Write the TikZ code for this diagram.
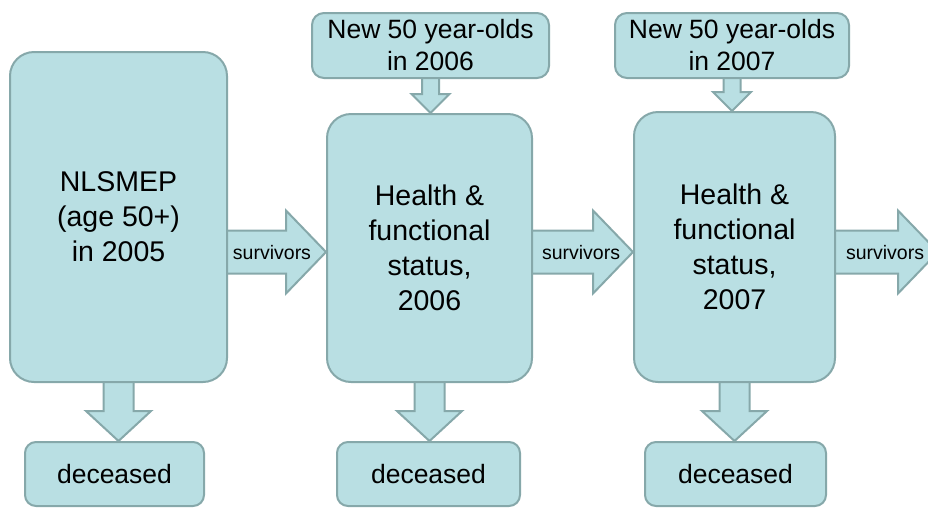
\documentclass[tikz,border=0pt]{standalone}
\usepackage{fontspec}
\setmainfont{Liberation Sans}
\usetikzlibrary{calc}
\pgfdeclarelayer{background}
\pgfsetlayers{background,main}
\definecolor{boxfill}{HTML}{B9DFE3}
\definecolor{boxline}{HTML}{86A8AA}
% horizontal block arrow: from, to (same row), shaft half-height, head half-height, head length
\newcommand\hblock[5]{let \p1=(#1), \p2=(#2) in
  (\x1-3pt,\y1+#3) -- (\x2-#5,\y1+#3) -- (\x2-#5,\y1+#4) -- (\x2,\y1)
  -- (\x2-#5,\y1-#4) -- (\x2-#5,\y1-#3) -- (\x1-3pt,\y1-#3) -- cycle}
% vertical block arrow (downwards): from, to, shaft half-width, head half-width, head length
\newcommand\vblock[5]{let \p1=(#1), \p2=(#2) in
  (\x1-#3,\y1+3pt) -- (\x1-#3,\y2+#5) -- (\x1-#4,\y2+#5) -- (\x1,\y2)
  -- (\x1+#4,\y2+#5) -- (\x1+#3,\y2+#5) -- (\x1+#3,\y1+3pt) -- cycle}
\begin{document}
\begin{tikzpicture}[x=1pt,y=-1pt,
  base/.style={draw=boxline, fill=boxfill, line width=2pt, align=center, inner sep=0pt},
  bigbox/.style={base, rounded corners=24pt, font=\fontsize{28.5}{35}\selectfont},
  newbox/.style={base, rounded corners=12pt, minimum height=65pt, font=\fontsize{26.5}{32}\selectfont},
  deadbox/.style={base, rounded corners=11pt, minimum height=64pt, font=\fontsize{26.5}{32}\selectfont},
  blk/.style={draw=boxline, fill=boxfill, line width=2pt, line join=miter},
  survlabel/.style={inner sep=0pt, font=\fontsize{19.5}{22}\selectfont}]
\useasboundingbox (0,0) rectangle (928,507);

% main boxes
\node[bigbox, minimum width=217pt, minimum height=330pt] (b1) at (118.5,217) {NLSMEP\\(age 50+)\\in 2005};
\node[bigbox, minimum width=205pt, minimum height=268pt] (b2) at (429.5,248) {Health \&\\functional\\status,\\2006};
\node[bigbox, minimum width=201pt, minimum height=270pt] (b3) at (734.5,247) {Health \&\\functional\\status,\\2007};

% new entrants
\node[newbox, minimum width=237pt] (n2) at (430.5,45.5) {New 50 year-olds\\in 2006};
\node[newbox, minimum width=234pt] (n3) at (732,45.5) {New 50 year-olds\\in 2007};

% deceased
\node[deadbox, minimum width=179pt] (d1) at (114.5,474) {deceased};
\node[deadbox, minimum width=183pt] (d2) at (428.5,474) {deceased};
\node[deadbox, minimum width=181pt] (d3) at (735.5,474) {deceased};

% row of survivors arrows
\coordinate (row) at (0,252);
\coordinate (e3) at (938,252);

\begin{pgfonlayer}{background}
  \fill[white] (0,0) rectangle (928,507);
  \filldraw[blk] \hblock{b1.east|-row}{b2.west|-row}{21.5pt}{41.5pt}{40pt};
  \filldraw[blk] \hblock{b2.east|-row}{b3.west|-row}{21.5pt}{41.5pt}{40pt};
  \filldraw[blk] \hblock{b3.east|-row}{e3}{21.5pt}{41.5pt}{40pt};
  \filldraw[blk] \vblock{b1.south}{d1.north}{15pt}{32.5pt}{30pt};
  \filldraw[blk] \vblock{b2.south}{d2.north}{15pt}{32.5pt}{30pt};
  \filldraw[blk] \vblock{b3.south}{d3.north}{15pt}{32.5pt}{30pt};
  \filldraw[blk] \vblock{n2.south}{n2.south|-b2.north}{8.5pt}{19pt}{19pt};
  \filldraw[blk] \vblock{n3.south}{n3.south|-b3.north}{8.5pt}{19pt}{19pt};
\end{pgfonlayer}

% survivors labels
\node[survlabel] (s1) at (272,253) {survivors};
\node[survlabel] (s2) at (581,253) {survivors};
\node[survlabel] (s3) at (885,253) {survivors};
\end{tikzpicture}
\end{document}
